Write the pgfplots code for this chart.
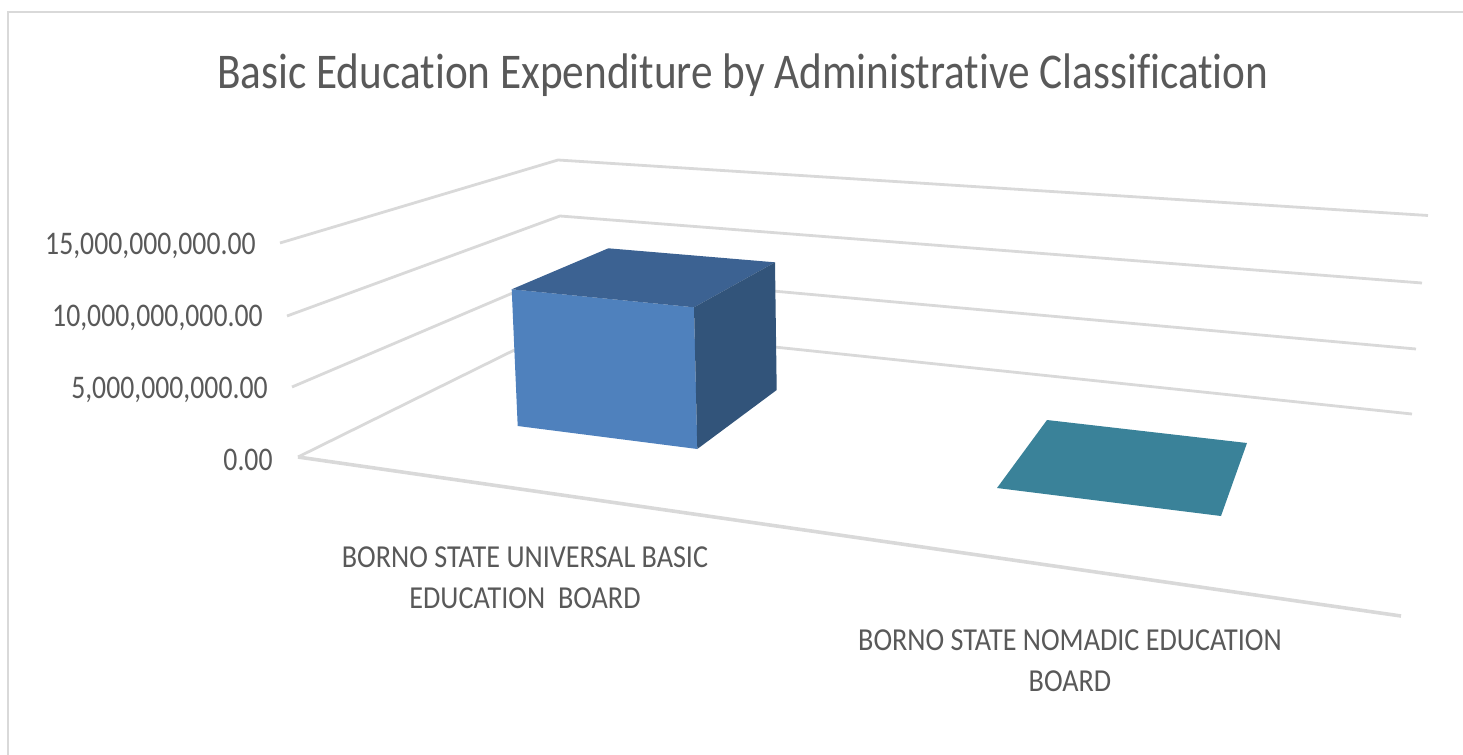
\documentclass[border=0pt]{standalone}
\usepackage{fontspec}
\setmainfont[Ligatures=NoCommon]{Carlito}
\usepackage{graphicx}
\usepackage{pgfplots}
\pgfplotsset{compat=1.18}

\definecolor{gridgray}{HTML}{D9D9D9}
\definecolor{txt}{HTML}{595959}
\definecolor{barfront}{HTML}{4F81BD}
\definecolor{bartop}{HTML}{3C6292}
\definecolor{barside}{HTML}{32547A}
\definecolor{bargreen}{HTML}{3A8299}

% reference text is narrower than Carlito
\newcommand{\sq}[2][0.88]{\scalebox{#1}[1]{#2}}

\begin{document}
\begin{tikzpicture}
\begin{axis}[
	name=ax,
	scale only axis,
	width=731.5pt,
	height=377.5pt,
	xmin=0, xmax=1463,
	ymin=0, ymax=755,
	y dir=reverse,
	clip=false,
	axis line style={draw=none},
	major tick length=0pt,
	xtick=\empty,
	ytick={246,317.5,389.5,459.5},
	yticklabels={
		{\sq[0.84]{15,000,000,000.00}\hspace*{8.5pt}},
		{\sq[0.84]{10,000,000,000.00}\hspace*{5pt}},
		{\sq[0.84]{5,000,000,000.00}\hspace*{2.5pt}},
		{\sq[0.84]{0.00}}},
	yticklabel style={anchor=east, inner sep=0pt, xshift=136.5pt,
		font=\fontsize{16.5}{20}\selectfont, text=txt},
	title={\sq[0.865]{Basic Education Expenditure by Administrative Classification}},
	every axis title shift=0pt,
	title style={at={(axis cs:743,88)}, anchor=base, inner sep=0pt,
		font=\fontsize{25}{29}\selectfont, text=txt},
]
% the perspective view is kept in picture coordinates (px from top left)
% frame
\addplot[gridgray, line width=1.2pt] coordinates {(8,755) (8,12) (1463,12)};
% gridlines, from the wall corner out to both ends
\addplot[gridgray, line width=1.4pt] coordinates {(280,243) (558,160) (1428,215.5)};
\addplot[gridgray, line width=1.4pt] coordinates {(287,316) (560,216) (1422,283)};
\addplot[gridgray, line width=1.4pt] coordinates {(292,387) (562,272) (1416,349)};
\addplot[gridgray, line width=1.4pt] coordinates {(298,457) (565,325) (1412,414)};
% floor front edge
\addplot[gridgray, line width=1.8pt] coordinates {(298,457) (1401,616)};
% universal basic education board
\addplot[fill=barfront, draw=none] coordinates {(511.7,289.3) (694,307.3) (697.3,449) (517.7,426)} -- cycle;
\addplot[fill=bartop, draw=none] coordinates {(511.7,289.3) (608.3,248.3) (775,262.3) (694,307.3)} -- cycle;
\addplot[fill=barside, draw=none] coordinates {(694,307.3) (775,262.3) (776.7,390) (697.3,449)} -- cycle;
% nomadic education board, next to nothing
\addplot[fill=bargreen, draw=none] coordinates {(1047,420) (1247,443) (1221,516) (997,488)} -- cycle;

\node[text=txt, align=center, inner sep=0pt, font=\fontsize{16}{20.5}\selectfont]
	at (axis cs:525,578) {\sq{BORNO STATE UNIVERSAL BASIC}\\\sq{EDUCATION~~BOARD}};
\node[text=txt, align=center, inner sep=0pt, font=\fontsize{16}{20.5}\selectfont]
	at (axis cs:1070,661) {\sq{BORNO STATE NOMADIC EDUCATION}\\\sq{BOARD}};
\end{axis}
\pgfresetboundingbox
\path[use as bounding box] (ax.south west) rectangle (ax.north east);
\end{tikzpicture}
\end{document}
